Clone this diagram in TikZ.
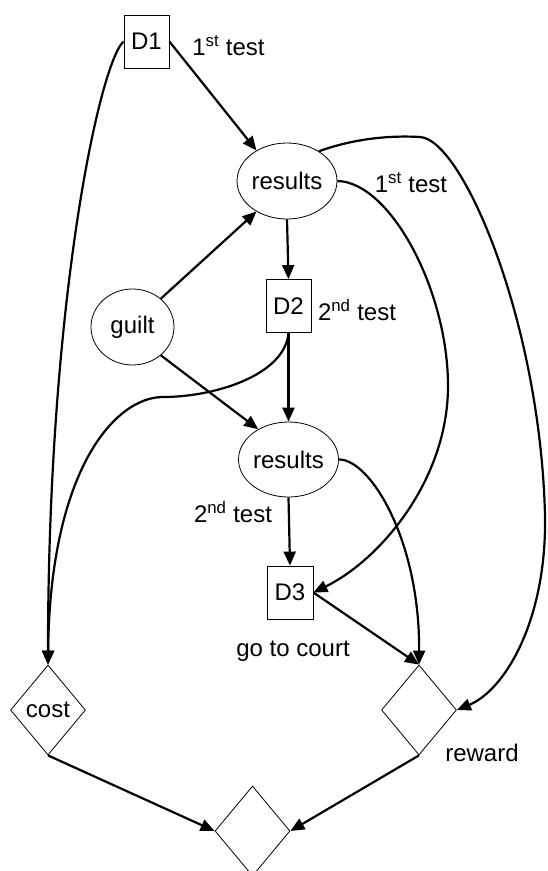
\documentclass[tikz,border=0pt]{standalone}
\usepackage{fontspec}
\setmainfont{Liberation Sans}
\usetikzlibrary{shapes.geometric,arrows.meta}
\begin{document}
\begin{tikzpicture}[x=1pt,y=-1pt,
  font=\fontsize{24}{28}\selectfont,
  decision/.style={draw,line width=0.8pt,rectangle,inner sep=0pt,minimum width=45pt,minimum height=53pt},
  chance/.style={draw,line width=0.8pt,ellipse,inner sep=0pt,minimum width=83pt,minimum height=76pt},
  value/.style={draw,line width=0.8pt,diamond,inner sep=0pt,minimum width=75pt,minimum height=90pt},
  lbl/.style={inner sep=0pt},
  edge/.style={line width=2.2pt,-{Triangle[length=14pt,width=12pt]}}
]
\useasboundingbox (0,0) rectangle (547,871);
% nodes
\node[decision] (D1) at (146.5,41.5) {D1};
\node[chance] (r1) at (287,181) {results};
\node[decision] (D2) at (288.5,306) {D2};
\node[chance] (guilt) at (132.5,327) {guilt};
\node[chance,minimum height=75pt] (r2) at (288.5,459.5) {results};
\node[decision,minimum width=46pt] (D3) at (290,592.5) {D3};
\node[value] (cost) at (48,710) {cost};
\node[value] (reward) at (419,710) {};
\node[value] (util) at (252.5,831) {};
% labels
\node[lbl] (l1) at (228.5,46) {1\textsuperscript{st} test};
\node[lbl] (l2) at (411,183) {1\textsuperscript{st} test};
\node[lbl] (l3) at (357,310) {2\textsuperscript{nd} test};
\node[lbl] (l4) at (233,512) {2\textsuperscript{nd} test};
\node[lbl] (l5) at (293,651) {go to court};
\node[lbl] (l6) at (482,753) {reward};
% straight edges
\draw[edge] (D1.east) -- (r1.135);
\draw[edge] (guilt.45) -- (r1.-135);
\draw[edge] (guilt.-45) -- (r2.135);
\draw[edge] (r1.south) -- (D2.north);
\draw[edge] (D2.south) -- (r2.north);
\draw[edge] (r2.south) -- (D3.north);
\draw[edge] (D3.east) -- (reward.north);
\draw[edge] (cost.south) -- (util.west);
\draw[edge] (reward.south) -- (util.east);
% curved edges
\draw[edge] (D1.west) .. controls (100,62) and (48,300) .. (cost.north);
\draw[edge] (D2.south) .. controls (285,375) and (215,397) .. (163,397)
  .. controls (115,397) and (50,470) .. (cost.north);
\draw[edge] (r1.east) .. controls (390,182) and (448,290) .. (448,386)
  .. controls (448,480) and (380,560) .. (D3.east);
\draw[edge] (r1.43) .. controls (350,140) and (385,135) .. (420,137)
  .. controls (462,139) and (540,320) .. (545,515)
  .. controls (547,620) and (505,690) .. (reward.east);
\draw[edge] (r2.east) .. controls (370,459) and (420,540) .. (reward.north);
\end{tikzpicture}
\end{document}
